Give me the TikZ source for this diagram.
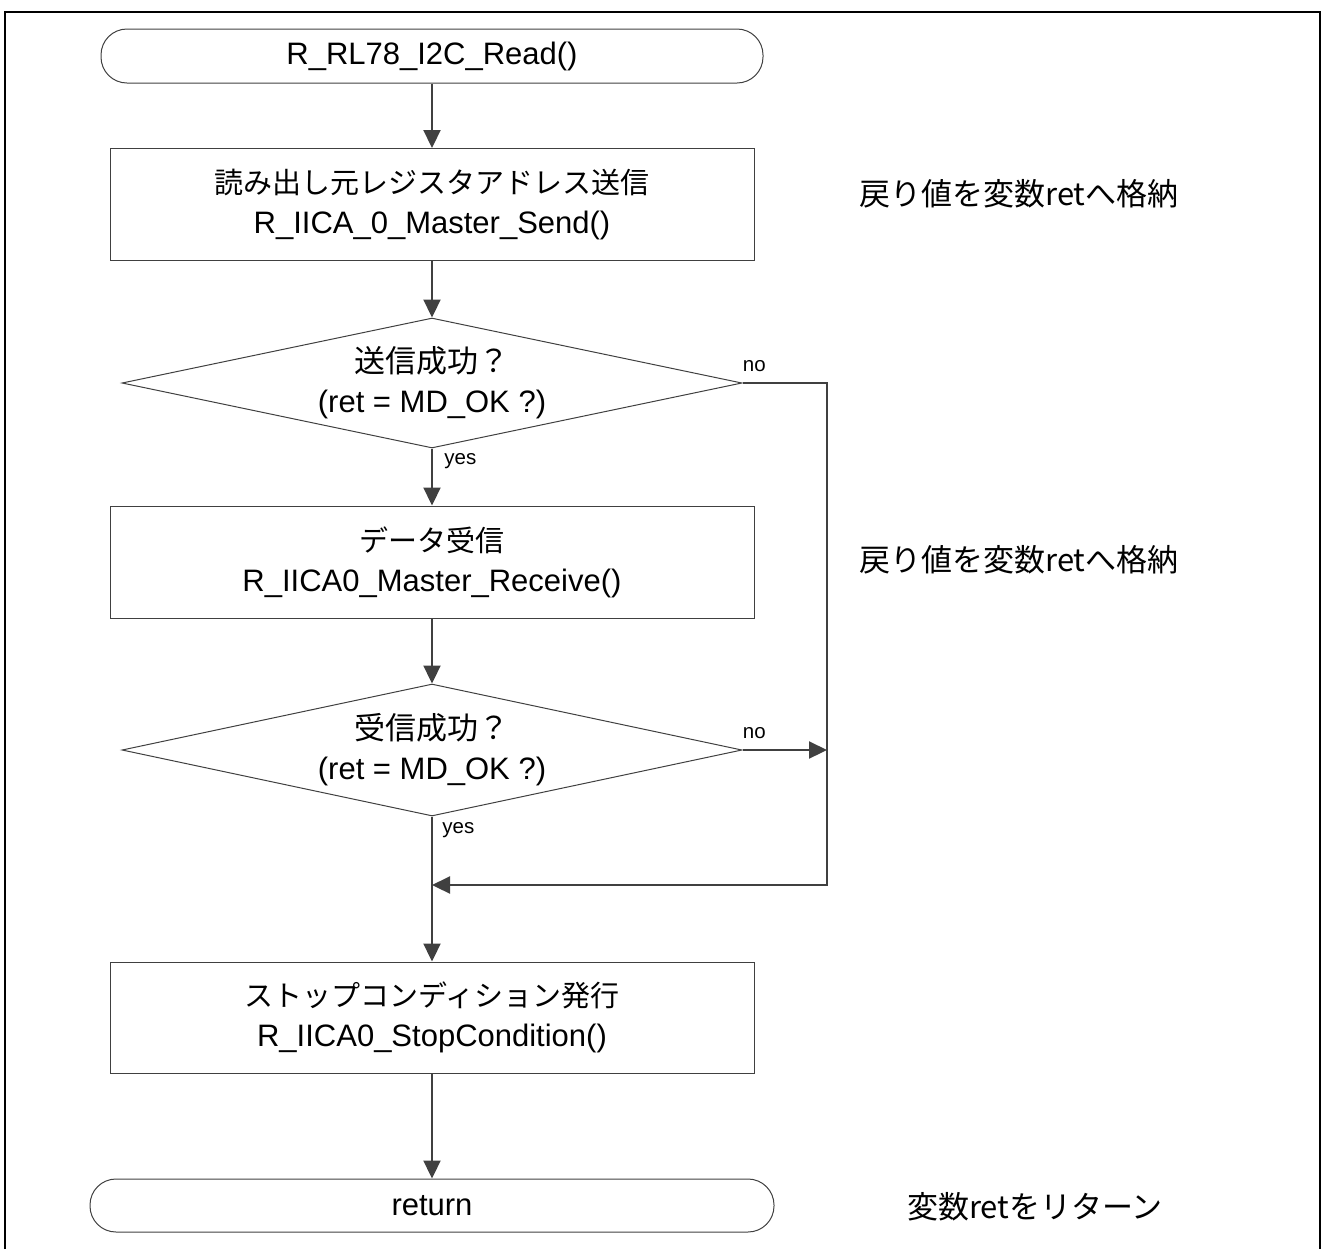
\documentclass[tikz,border=0pt]{standalone}
\usepackage{fontspec}
\setmainfont{Liberation Sans}
\newfontfamily\jp{Noto Sans CJK JP}
\usetikzlibrary{shapes.geometric}
\usetikzlibrary{arrows.meta}
\definecolor{linegray}{HTML}{404040}
\newcommand{\jpline}[1]{{\jp\fontsize{14.5}{20}\selectfont #1}}

\begin{document}
\begin{tikzpicture}[x=1pt,y=1pt,
        process/.style={draw=linegray,line width=0.5pt,rectangle,minimum width=322pt,minimum height=56pt,align=center,font=\fontsize{15.5}{20}\selectfont},
        terminal/.style={draw=linegray,line width=0.5pt,rectangle,rounded corners=13pt,minimum height=27pt,align=center,font=\fontsize{15.5}{20}\selectfont},
        decision/.style={draw=linegray,line width=0.5pt,diamond,inner sep=0pt,minimum width=310pt,minimum height=65pt},
        flow/.style={draw=linegray,line width=1.1pt,-{Triangle[length=9pt,width=8.5pt]}},
        tag/.style={inner sep=0pt,font=\fontsize{10.25}{12}\selectfont},
        note/.style={inner sep=0pt,font=\jp\fontsize{15.5}{20}\selectfont}]
        \useasboundingbox (0,0) rectangle (661.5,-624.5);

        \coordinate (S) at (216,-28);
        \coordinate (P1) at (216,-102.25);
        \coordinate (D1) at (216,-191.5);
        \coordinate (P2) at (216,-281);
        \coordinate (D2) at (216,-375);
        \coordinate (P3) at (216,-508.75);
        \coordinate (R) at (216,-602.75);
        \coordinate (jr) at (413.5,-442.5);
        \coordinate (merge) at (216,-442.5);

        % frame
        \draw[line width=1pt] (2.5,-624.5) -- (2.5,-6) -- (660,-6) -- (660,-624.5);

        \node[terminal,minimum width=331pt] (start) at (S) {R\_RL78\_I2C\_Read()};
        \node[process] (send) at (P1) {\jpline{読み出し元レジスタアドレス送信}\\R\_IICA\_0\_Master\_Send()};
        \node[decision,label={[align=center,font=\fontsize{15.5}{20}\selectfont]center:{\jp 送信成功？}\\(ret = MD\_OK ?)}] (sendok) at (D1) {};
        \node[process] (recv) at (P2) {\jpline{データ受信}\\R\_IICA0\_Master\_Receive()};
        \node[decision,minimum height=66pt,label={[align=center,font=\fontsize{15.5}{20}\selectfont]center:{\jp 受信成功？}\\(ret = MD\_OK ?)}] (recvok) at (D2) {};
        \node[process,minimum height=55.5pt] (stop) at (P3) {\jpline{ストップコンディション発行}\\R\_IICA0\_StopCondition()};
        \node[terminal,minimum width=342pt,minimum height=26.5pt] (ret) at (R) {return};

        \node[tag,anchor=south west] (no1) at ([yshift=5.5pt]sendok.east) {no};
        \node[tag,anchor=north west] (yes1) at ([xshift=6pt,yshift=-2.5pt]sendok.south) {yes};
        \node[tag,anchor=south west] (no2) at ([yshift=5.5pt]recvok.east) {no};
        \node[tag,anchor=north west] (yes2) at ([xshift=5pt,yshift=-3pt]recvok.south) {yes};

        \node[note] (note1) at (509.5,-97) {戻り値を変数retへ格納};
        \node[note] (note2) at (509.5,-280) {戻り値を変数retへ格納};
        \node[note] (note3) at (517.5,-603.5) {変数retをリターン};

        \draw[flow] (start) -- (send);
        \draw[flow] (send) -- (sendok);
        \draw[flow] (sendok) -- (recv);
        \draw[flow] (recv) -- (recvok);
        \draw[flow] (recvok) -- (stop);
        \draw[flow] (stop) -- (ret);
        \draw[flow] (sendok.east) -| (jr) -- (merge);
        \draw[flow] (recvok.east) -- (recvok.east -| jr);

    \end{tikzpicture}
\end{document}
